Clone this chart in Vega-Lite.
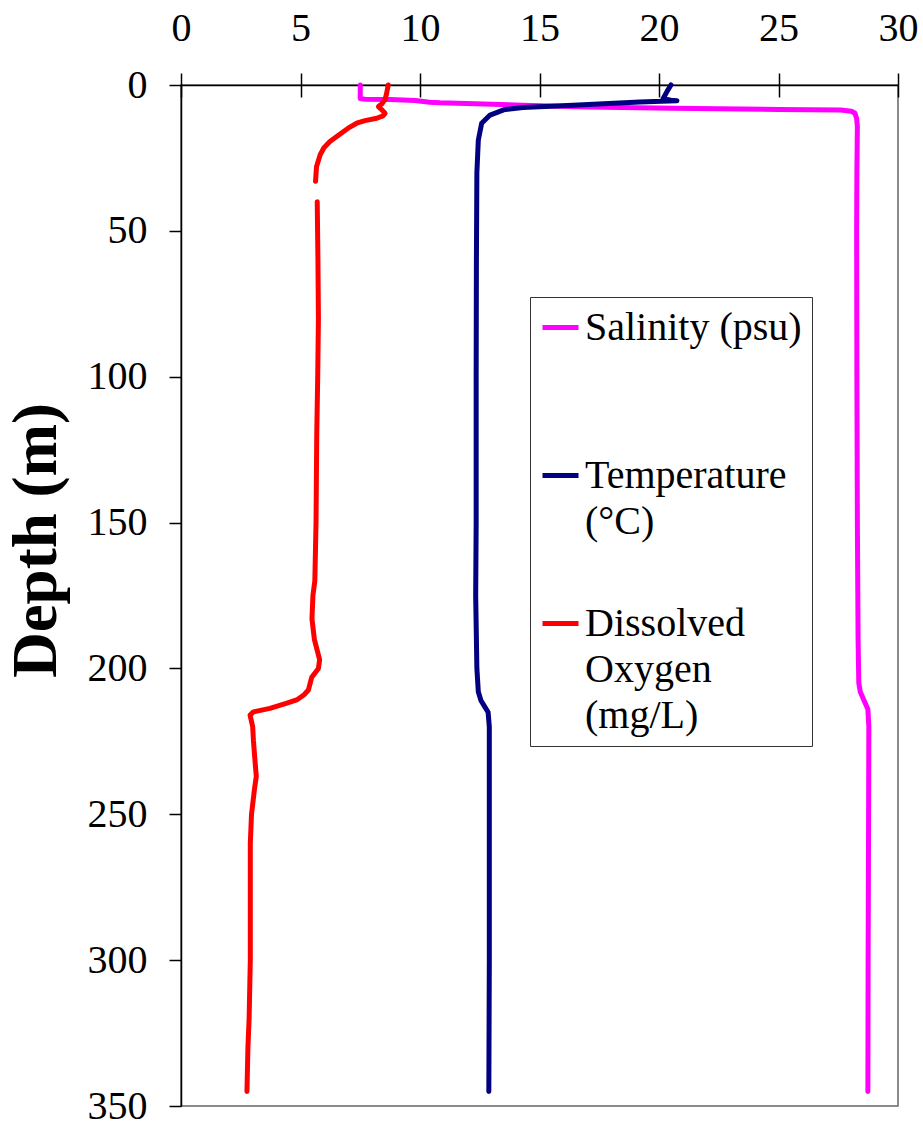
{
  "$schema": "https://vega.github.io/schema/vega-lite/v6.json",
  "autosize": {"type": "none"},
  "padding": {"left": 181, "top": 85, "right": 25, "bottom": 21},
  "width": 717,
  "height": 1021,
  "background": "white",
  "config": {
    "font": "Liberation Serif",
    "view": {"stroke": "#666666", "strokeWidth": 1.5}
  },
  "data": {
    "values": [
      {"p": "Salinity (psu)", "seg": "S", "depth": 0, "value": 7.5},
      {"p": "Salinity (psu)", "seg": "S", "depth": 4.6, "value": 7.5},
      {"p": "Salinity (psu)", "seg": "S", "depth": 4.9, "value": 7.7},
      {"p": "Salinity (psu)", "seg": "S", "depth": 5.0, "value": 8.75},
      {"p": "Salinity (psu)", "seg": "S", "depth": 5.3, "value": 9.8},
      {"p": "Salinity (psu)", "seg": "S", "depth": 5.9, "value": 10.4},
      {"p": "Salinity (psu)", "seg": "S", "depth": 6.1, "value": 10.84},
      {"p": "Salinity (psu)", "seg": "S", "depth": 6.9, "value": 14.3},
      {"p": "Salinity (psu)", "seg": "S", "depth": 7.5, "value": 17.0},
      {"p": "Salinity (psu)", "seg": "S", "depth": 8.0, "value": 20.6},
      {"p": "Salinity (psu)", "seg": "S", "depth": 8.4, "value": 25.0},
      {"p": "Salinity (psu)", "seg": "S", "depth": 8.6, "value": 27.6},
      {"p": "Salinity (psu)", "seg": "S", "depth": 9.0, "value": 28.05},
      {"p": "Salinity (psu)", "seg": "S", "depth": 9.7, "value": 28.2},
      {"p": "Salinity (psu)", "seg": "S", "depth": 11.5, "value": 28.27},
      {"p": "Salinity (psu)", "seg": "S", "depth": 14.3, "value": 28.3},
      {"p": "Salinity (psu)", "seg": "S", "depth": 30, "value": 28.28},
      {"p": "Salinity (psu)", "seg": "S", "depth": 50, "value": 28.27},
      {"p": "Salinity (psu)", "seg": "S", "depth": 100, "value": 28.28},
      {"p": "Salinity (psu)", "seg": "S", "depth": 150, "value": 28.3},
      {"p": "Salinity (psu)", "seg": "S", "depth": 190, "value": 28.33},
      {"p": "Salinity (psu)", "seg": "S", "depth": 205, "value": 28.36},
      {"p": "Salinity (psu)", "seg": "S", "depth": 208, "value": 28.42},
      {"p": "Salinity (psu)", "seg": "S", "depth": 211, "value": 28.58},
      {"p": "Salinity (psu)", "seg": "S", "depth": 214, "value": 28.74},
      {"p": "Salinity (psu)", "seg": "S", "depth": 220, "value": 28.78},
      {"p": "Salinity (psu)", "seg": "S", "depth": 250, "value": 28.77},
      {"p": "Salinity (psu)", "seg": "S", "depth": 300, "value": 28.75},
      {"p": "Salinity (psu)", "seg": "S", "depth": 345, "value": 28.74},
      {"p": "Temperature (°C)", "seg": "T", "depth": 0, "value": 20.5},
      {"p": "Temperature (°C)", "seg": "T", "depth": 2, "value": 20.35},
      {"p": "Temperature (°C)", "seg": "T", "depth": 4.7, "value": 20.17},
      {"p": "Temperature (°C)", "seg": "T", "depth": 5.2, "value": 20.5},
      {"p": "Temperature (°C)", "seg": "T", "depth": 5.4, "value": 20.75},
      {"p": "Temperature (°C)", "seg": "T", "depth": 5.6, "value": 20.1},
      {"p": "Temperature (°C)", "seg": "T", "depth": 5.8, "value": 19.2},
      {"p": "Temperature (°C)", "seg": "T", "depth": 6.9, "value": 16.4},
      {"p": "Temperature (°C)", "seg": "T", "depth": 7.7, "value": 14.3},
      {"p": "Temperature (°C)", "seg": "T", "depth": 8.5, "value": 13.5},
      {"p": "Temperature (°C)", "seg": "T", "depth": 10.3, "value": 12.93},
      {"p": "Temperature (°C)", "seg": "T", "depth": 13.1, "value": 12.58},
      {"p": "Temperature (°C)", "seg": "T", "depth": 18.9, "value": 12.44},
      {"p": "Temperature (°C)", "seg": "T", "depth": 30, "value": 12.38},
      {"p": "Temperature (°C)", "seg": "T", "depth": 60, "value": 12.36},
      {"p": "Temperature (°C)", "seg": "T", "depth": 100, "value": 12.35},
      {"p": "Temperature (°C)", "seg": "T", "depth": 150, "value": 12.35},
      {"p": "Temperature (°C)", "seg": "T", "depth": 175, "value": 12.33},
      {"p": "Temperature (°C)", "seg": "T", "depth": 200, "value": 12.38},
      {"p": "Temperature (°C)", "seg": "T", "depth": 208, "value": 12.44},
      {"p": "Temperature (°C)", "seg": "T", "depth": 211, "value": 12.55},
      {"p": "Temperature (°C)", "seg": "T", "depth": 213, "value": 12.7},
      {"p": "Temperature (°C)", "seg": "T", "depth": 215, "value": 12.85},
      {"p": "Temperature (°C)", "seg": "T", "depth": 220, "value": 12.9},
      {"p": "Temperature (°C)", "seg": "T", "depth": 250, "value": 12.9},
      {"p": "Temperature (°C)", "seg": "T", "depth": 300, "value": 12.9},
      {"p": "Temperature (°C)", "seg": "T", "depth": 345, "value": 12.88},
      {"p": "Dissolved Oxygen (mg/L)", "seg": "O1", "depth": 0, "value": 8.67},
      {"p": "Dissolved Oxygen (mg/L)", "seg": "O1", "depth": 3, "value": 8.6},
      {"p": "Dissolved Oxygen (mg/L)", "seg": "O1", "depth": 4.9, "value": 8.54},
      {"p": "Dissolved Oxygen (mg/L)", "seg": "O1", "depth": 6.5, "value": 8.4},
      {"p": "Dissolved Oxygen (mg/L)", "seg": "O1", "depth": 7.4, "value": 8.26},
      {"p": "Dissolved Oxygen (mg/L)", "seg": "O1", "depth": 8.5, "value": 8.4},
      {"p": "Dissolved Oxygen (mg/L)", "seg": "O1", "depth": 9.7, "value": 8.54},
      {"p": "Dissolved Oxygen (mg/L)", "seg": "O1", "depth": 10.6, "value": 8.45},
      {"p": "Dissolved Oxygen (mg/L)", "seg": "O1", "depth": 11.4, "value": 8.19},
      {"p": "Dissolved Oxygen (mg/L)", "seg": "O1", "depth": 12.2, "value": 7.7},
      {"p": "Dissolved Oxygen (mg/L)", "seg": "O1", "depth": 13.1, "value": 7.35},
      {"p": "Dissolved Oxygen (mg/L)", "seg": "O1", "depth": 14.5, "value": 7.05},
      {"p": "Dissolved Oxygen (mg/L)", "seg": "O1", "depth": 16.0, "value": 6.79},
      {"p": "Dissolved Oxygen (mg/L)", "seg": "O1", "depth": 19.4, "value": 6.23},
      {"p": "Dissolved Oxygen (mg/L)", "seg": "O1", "depth": 21.5, "value": 5.98},
      {"p": "Dissolved Oxygen (mg/L)", "seg": "O1", "depth": 24.0, "value": 5.82},
      {"p": "Dissolved Oxygen (mg/L)", "seg": "O1", "depth": 28.0, "value": 5.67},
      {"p": "Dissolved Oxygen (mg/L)", "seg": "O1", "depth": 33.0, "value": 5.63},
      {"p": "Dissolved Oxygen (mg/L)", "seg": "O2", "depth": 40.0, "value": 5.7},
      {"p": "Dissolved Oxygen (mg/L)", "seg": "O2", "depth": 60, "value": 5.73},
      {"p": "Dissolved Oxygen (mg/L)", "seg": "O2", "depth": 80, "value": 5.75},
      {"p": "Dissolved Oxygen (mg/L)", "seg": "O2", "depth": 100, "value": 5.72},
      {"p": "Dissolved Oxygen (mg/L)", "seg": "O2", "depth": 120, "value": 5.68},
      {"p": "Dissolved Oxygen (mg/L)", "seg": "O2", "depth": 150, "value": 5.65},
      {"p": "Dissolved Oxygen (mg/L)", "seg": "O2", "depth": 170, "value": 5.6},
      {"p": "Dissolved Oxygen (mg/L)", "seg": "O2", "depth": 175, "value": 5.52},
      {"p": "Dissolved Oxygen (mg/L)", "seg": "O2", "depth": 183, "value": 5.48},
      {"p": "Dissolved Oxygen (mg/L)", "seg": "O2", "depth": 190, "value": 5.58},
      {"p": "Dissolved Oxygen (mg/L)", "seg": "O2", "depth": 197, "value": 5.8},
      {"p": "Dissolved Oxygen (mg/L)", "seg": "O2", "depth": 200, "value": 5.75},
      {"p": "Dissolved Oxygen (mg/L)", "seg": "O2", "depth": 203, "value": 5.47},
      {"p": "Dissolved Oxygen (mg/L)", "seg": "O2", "depth": 207.4, "value": 5.33},
      {"p": "Dissolved Oxygen (mg/L)", "seg": "O2", "depth": 209, "value": 5.15},
      {"p": "Dissolved Oxygen (mg/L)", "seg": "O2", "depth": 210.8, "value": 4.84},
      {"p": "Dissolved Oxygen (mg/L)", "seg": "O2", "depth": 212, "value": 4.4},
      {"p": "Dissolved Oxygen (mg/L)", "seg": "O2", "depth": 213.7, "value": 3.72},
      {"p": "Dissolved Oxygen (mg/L)", "seg": "O2", "depth": 214.9, "value": 3.03},
      {"p": "Dissolved Oxygen (mg/L)", "seg": "O2", "depth": 216, "value": 2.89},
      {"p": "Dissolved Oxygen (mg/L)", "seg": "O2", "depth": 220, "value": 3.0},
      {"p": "Dissolved Oxygen (mg/L)", "seg": "O2", "depth": 224.6, "value": 3.03},
      {"p": "Dissolved Oxygen (mg/L)", "seg": "O2", "depth": 230, "value": 3.08},
      {"p": "Dissolved Oxygen (mg/L)", "seg": "O2", "depth": 237, "value": 3.15},
      {"p": "Dissolved Oxygen (mg/L)", "seg": "O2", "depth": 241, "value": 3.08},
      {"p": "Dissolved Oxygen (mg/L)", "seg": "O2", "depth": 250, "value": 2.95},
      {"p": "Dissolved Oxygen (mg/L)", "seg": "O2", "depth": 260, "value": 2.9},
      {"p": "Dissolved Oxygen (mg/L)", "seg": "O2", "depth": 280, "value": 2.9},
      {"p": "Dissolved Oxygen (mg/L)", "seg": "O2", "depth": 300, "value": 2.9},
      {"p": "Dissolved Oxygen (mg/L)", "seg": "O2", "depth": 320, "value": 2.85},
      {"p": "Dissolved Oxygen (mg/L)", "seg": "O2", "depth": 330, "value": 2.8},
      {"p": "Dissolved Oxygen (mg/L)", "seg": "O2", "depth": 345, "value": 2.76}
    ]
  },
  "encoding": {
    "y": {
      "field": "depth",
      "type": "quantitative",
      "scale": {"domain": [0, 350], "reverse": true, "nice": false, "zero": false},
      "axis": {
        "values": [0, 50, 100, 150, 200, 250, 300, 350],
        "title": "Depth (m)",
        "titleFont": "Liberation Serif",
        "titleFontSize": 63,
        "titleFontWeight": "bold",
        "titleColor": "black",
        "titleAngle": 270,
        "titleAlign": "center",
        "titleBaseline": "alphabetic",
        "titleX": -126,
        "titleY": 455,
        "labelFont": "Liberation Serif",
        "labelFontSize": 40,
        "labelColor": "black",
        "labelPadding": 22,
        "labelFlush": false,
        "labelOverlap": false,
        "labelBaseline": "middle",
        "tickSize": 12,
        "tickColor": "black",
        "tickWidth": 1.5,
        "domainColor": "black",
        "domainWidth": 1.5,
        "grid": false
      }
    }
  },
  "layer": [
    {
      "mark": {"type": "line", "strokeWidth": 5, "strokeCap": "round", "strokeJoin": "round"},
      "encoding": {
        "x": {
          "field": "value",
          "type": "quantitative",
          "scale": {"domain": [0, 30], "nice": false, "zero": false},
          "axis": {
            "orient": "top",
            "values": [0, 5, 10, 15, 20, 25, 30],
            "title": null,
            "labelFont": "Liberation Serif",
            "labelFontSize": 40,
            "labelColor": "black",
            "labelPadding": 25,
            "labelFlush": false,
            "labelOverlap": false,
            "tickSize": 12,
            "tickColor": "black",
            "tickWidth": 1.5,
            "domainColor": "black",
            "domainWidth": 1.5,
            "grid": false
          }
        },
        "color": {
          "field": "p",
          "type": "nominal",
          "scale": {
            "domain": ["Salinity (psu)", "Temperature (°C)", "Dissolved Oxygen (mg/L)"],
            "range": ["#FF00FF", "#000080", "#FF0000"]
          },
          "legend": {
            "orient": "none",
            "legendX": 349,
            "legendY": 212,
            "title": null,
            "symbolType": "stroke",
            "symbolSize": 1296,
            "symbolStrokeWidth": 5,
            "labelFont": "Liberation Serif",
            "labelFontSize": 40,
            "labelColor": "black",
            "labelLimit": 400,
            "labelOffset": 4,
            "labelBaseline": "alphabetic",
            "labelExpr": "datum.label == 'Salinity (psu)' ? ['Salinity (psu)', '', ''] : datum.label == 'Temperature (°C)' ? ['Temperature', '(°C)', ''] : ['Dissolved', 'Oxygen', '(mg/L)']",
            "padding": 10,
            "rowPadding": 15,
            "strokeColor": "#333333",
            "fillColor": "white",
            "encode": {
              "labels": {"update": {"dy": {"value": 12}, "lineHeight": {"value": 46}}}
            }
          }
        },
        "detail": {"field": "seg", "type": "nominal"},
        "order": {"field": "depth", "type": "quantitative"}
      }
    },
    {
      "mark": {"type": "point", "opacity": 0},
      "encoding": {
        "x": {
          "field": "value",
          "type": "quantitative",
          "axis": {
            "orient": "top",
            "values": [0, 5, 10, 15, 20, 25, 30],
            "title": null,
            "labels": false,
            "domain": false,
            "tickSize": -12,
            "tickColor": "black",
            "tickWidth": 1.5,
            "grid": false
          }
        }
      }
    }
  ],
  "resolve": {"axis": {"x": "independent"}}
}
